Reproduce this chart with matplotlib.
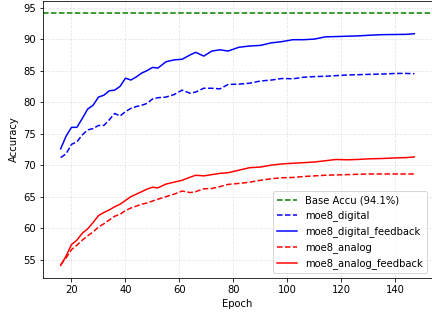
import matplotlib
matplotlib.use("Agg")
import matplotlib.pyplot as plt

epochs = [16, 18, 20, 22, 24, 26, 28, 30, 32, 34, 36, 38, 40, 42, 44, 46, 48,
          50, 52, 55, 58, 61, 64, 66, 69, 72, 75, 78, 82, 86, 90, 94, 98, 102,
          106, 110, 114, 118, 122, 126, 130, 135, 140, 144, 147]

base_accu = 94.1

moe8_digital = [71.2, 71.8, 73.3, 73.7, 74.8, 75.6, 75.8, 76.3, 76.3, 77.2,
                78.2, 77.8, 78.5, 79.0, 79.3, 79.5, 79.8, 80.5, 80.7, 80.8,
                81.2, 81.9, 81.4, 81.6, 82.2, 82.2, 82.1, 82.8, 82.85, 83.0,
                83.35, 83.5, 83.75, 83.7, 83.95, 84.05, 84.1, 84.2, 84.3,
                84.35, 84.4, 84.45, 84.55, 84.55, 84.5]

moe8_digital_feedback = [72.6, 74.6, 76.0, 76.0, 77.4, 78.9, 79.5, 80.8, 81.1,
                         81.8, 81.9, 82.5, 83.8, 83.5, 84.0, 84.6, 85.0, 85.5,
                         85.4, 86.4, 86.7, 86.8, 87.5, 87.9, 87.3, 88.1, 88.3,
                         88.1, 88.7, 88.9, 89.0, 89.4, 89.6, 89.9, 89.9, 90.0,
                         90.35, 90.4, 90.45, 90.5, 90.6, 90.7, 90.73, 90.75,
                         90.85]

moe8_analog = [54.2, 55.3, 56.6, 57.3, 58.1, 58.8, 59.4, 60.2, 60.7, 61.3,
               61.9, 62.2, 62.8, 63.2, 63.5, 63.8, 64.0, 64.3, 64.6, 65.0,
               65.4, 65.9, 65.65, 65.8, 66.25, 66.3, 66.6, 66.95, 67.1, 67.3,
               67.6, 67.85, 68.0, 68.05, 68.2, 68.3, 68.4, 68.45, 68.5, 68.55,
               68.6, 68.6, 68.6, 68.6, 68.6]

moe8_analog_feedback = [54.1, 55.6, 57.4, 58.1, 59.2, 59.9, 60.9, 62.0, 62.5,
                        62.9, 63.4, 63.8, 64.4, 65.0, 65.4, 65.8, 66.2, 66.5,
                        66.4, 67.0, 67.3, 67.6, 68.1, 68.4, 68.3, 68.5, 68.7,
                        68.8, 69.2, 69.6, 69.7, 70.0, 70.2, 70.3, 70.4, 70.5,
                        70.7, 70.9, 70.85, 70.9, 71.0, 71.05, 71.15, 71.2,
                        71.3]

fig, ax = plt.subplots(figsize=(6.0, 313 / 72), dpi=72)
fig.subplots_adjust(left=43 / 432, right=1.0, bottom=35 / 313, top=0.998)

ax.axhline(base_accu, color="green", linestyle="--", label=f"Base Accu ({base_accu}%)")
ax.plot(epochs, moe8_digital, "b--", label="moe8_digital")
ax.plot(epochs, moe8_digital_feedback, "b-", label="moe8_digital_feedback")
ax.plot(epochs, moe8_analog, "r--", label="moe8_analog")
ax.plot(epochs, moe8_analog_feedback, "r-", label="moe8_analog_feedback")

ax.set_xlabel("Epoch")
ax.set_ylabel("Accuracy")
ax.grid(True, linestyle="--", alpha=0.3)
ax.legend(loc="lower right")

fig.savefig("out.png", dpi=72)
